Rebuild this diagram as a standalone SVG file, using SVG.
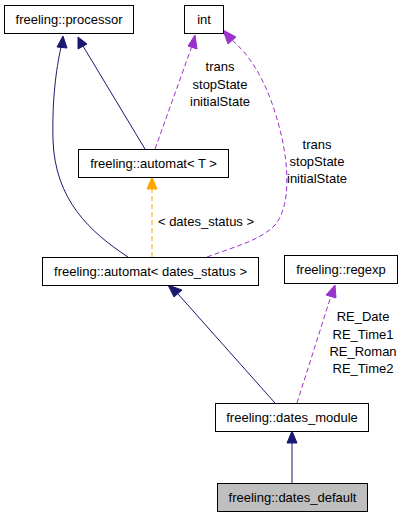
<svg xmlns="http://www.w3.org/2000/svg" width="401" height="517" viewBox="0 0 401 517">
<style>
text{font-family:"Liberation Sans",Arial,sans-serif;font-size:13px;fill:#000;text-anchor:middle}
.box{fill:#fff;stroke:#000;stroke-width:1}
.nv{fill:none;stroke:#191970;stroke-width:1}
.pu{fill:none;stroke:#9a32cd;stroke-width:1;stroke-dasharray:5,3}
.or{fill:none;stroke:#ffa500;stroke-width:1;stroke-dasharray:5,3}
.ahn{fill:#191970;stroke:#191970}
.ahp{fill:#9a32cd;stroke:#9a32cd}
.aho{fill:#ffa500;stroke:#ffa500}
</style>
<rect width="401" height="517" fill="#fff"/>
<g id="connectors">
  <path class="nv" d="M128,257 C90,232 55,200 53,140 C52,100 56,70 61,47"/>
  <polygon class="ahn" points="63,36 57,47 67,48"/>
  <path class="nv" d="M145,149 L83,46"/>
  <polygon class="ahn" points="78,37 78,49 87,44"/>
  <path class="pu" d="M155,149 L192,46"/>
  <polygon class="ahp" points="195,35 188,46 197,49"/>
  <path class="pu" d="M207,257 C240,245 260,240 275,225 C292,205 288,160 280,130 C270,90 255,60 232,40"/>
  <polygon class="ahp" points="223,30 228,44 236,37"/>
  <path class="or" d="M152,257 L152,189"/>
  <polygon class="aho" points="152,177 147,189 157,189"/>
  <path class="nv" d="M275,403 L178,294"/>
  <polygon class="ahn" points="168,285 174,297 182,290"/>
  <path class="pu" d="M297,403 L331,296"/>
  <polygon class="ahp" points="335,285 326,295 336,298"/>
  <path class="nv" d="M292,483 L292,443"/>
  <polygon class="ahn" points="292,431 287,443 297,443"/>
</g>
<g id="labels">
  <text x="220" y="71">trans</text>
  <text x="220" y="89">stopState</text>
  <text x="220" y="106">initialState</text>
  <text x="317" y="149">trans</text>
  <text x="317" y="166">stopState</text>
  <text x="317" y="183">initialState</text>
  <text x="206" y="226">&lt; dates_status &gt;</text>
  <text x="363" y="321">RE_Date</text>
  <text x="363" y="339">RE_Time1</text>
  <text x="363" y="356">RE_Roman</text>
  <text x="363" y="373">RE_Time2</text>
</g>
<g id="processor">
  <rect class="box" x="4.5" y="5.5" width="129" height="28"/>
  <text x="69" y="24">freeling::processor</text>
</g>
<g id="int">
  <rect class="box" x="184.5" y="5.5" width="39" height="28"/>
  <text x="204" y="24">int</text>
</g>
<g id="automat_T">
  <rect class="box" x="78.5" y="149.5" width="150" height="28"/>
  <text x="153.5" y="168">freeling::automat&lt; T &gt;</text>
</g>
<g id="automat_dates_status">
  <rect class="box" x="42.5" y="257.5" width="216" height="28"/>
  <text x="150.5" y="276">freeling::automat&lt; dates_status &gt;</text>
</g>
<g id="regexp">
  <rect class="box" x="284.5" y="255.5" width="113" height="28"/>
  <text x="341" y="274">freeling::regexp</text>
</g>
<g id="dates_module">
  <rect class="box" x="215.5" y="403.5" width="153" height="28"/>
  <text x="292" y="422">freeling::dates_module</text>
</g>
<g id="dates_default">
  <rect class="box" x="217.5" y="483.5" width="150" height="28" style="fill:#bfbfbf"/>
  <text x="292.5" y="502">freeling::dates_default</text>
</g>
</svg>
